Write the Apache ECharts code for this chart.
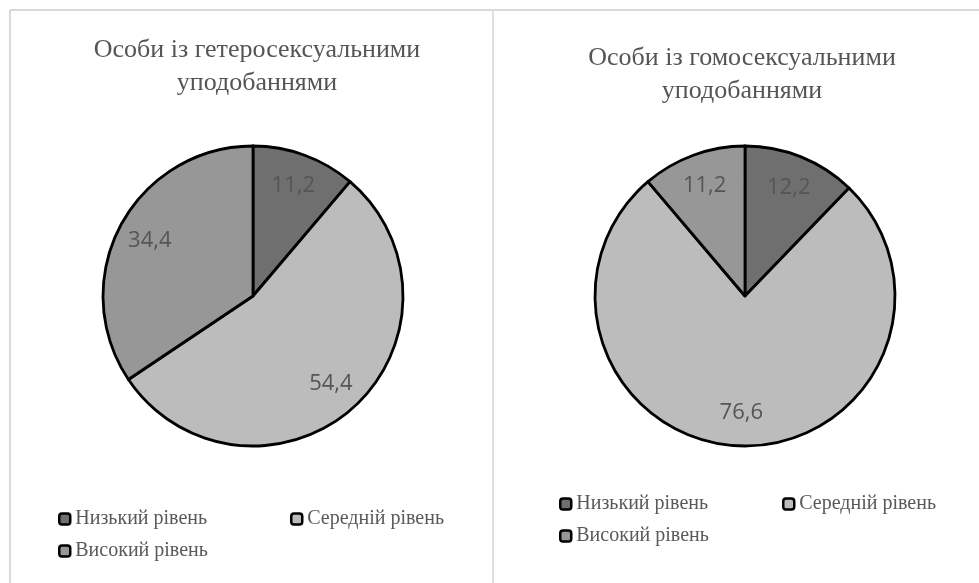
<!DOCTYPE html>
<html><head><meta charset="utf-8">
<script src="https://cdn.jsdelivr.net/npm/echarts@6/dist/echarts.min.js"></script>
<style>html,body{margin:0;padding:0;background:#fff;}#c{width:979px;height:583px;}</style>
</head><body><div id="c"></div>
<script>
const categories = ['Низький рівень', 'Середній рівень', 'Високий рівень'];
const heteroValues = [11.2, 54.4, 34.4];
const homoValues = [12.2, 76.6, 11.2];
const heteroLabels = ['11,2', '54,4', '34,4'];
const homoLabels = ['12,2', '76,6', '11,2'];
const titles = ['Особи із гетеросексуальними\nуподобаннями', 'Особи із гомосексуальними\nуподобаннями'];
const sliceColors = ['#6f6f6f', '#bcbcbc', '#979797'];

const chart = echarts.init(document.getElementById('c'), null, {renderer: 'canvas'});

function fillSeries(values, center) {
  return {
    type: 'pie', center: center, radius: [0, 150], startAngle: 90, clockwise: true,
    silent: true, label: {show: false}, labelLine: {show: false},
    itemStyle: {borderColor: '#000', borderWidth: 2.8},
    emphasis: {disabled: true},
    data: categories.map((n, i) => ({name: n, value: values[i], itemStyle: {color: sliceColors[i]}}))
  };
}
function labelSeries(values, labels, center) {
  return {
    type: 'pie', center: center, radius: [78, 150], startAngle: 90, clockwise: true,
    silent: true, legendHoverLink: false, z: 5,
    itemStyle: {color: 'rgba(0,0,0,0)', borderWidth: 0},
    emphasis: {disabled: true},
    labelLine: {show: false},
    label: {show: true, position: 'inside', fontFamily: 'Open Sans', fontSize: 22, color: '#555',
      formatter: p => labels[p.dataIndex]},
    data: categories.map((n, i) => ({name: n, value: values[i]}))
  };
}
const legendText = {fontFamily: 'Liberation Serif', fontSize: 20, color: '#595959'};
function lg(name, left, top) {
  return {data: [name], left: left, top: top, icon: 'roundRect', itemWidth: 11, itemHeight: 11, itemGap: 2,
    itemStyle: {borderColor: '#000', borderWidth: 2.5}, textStyle: legendText, selectedMode: false, padding: 0};
}
const titleStyle = {fontFamily: 'Liberation Serif', fontWeight: 'normal', fontSize: 26, lineHeight: 33, color: '#555'};

chart.setOption({
  backgroundColor: '#fff',
  animation: false,
  title: [
    {text: titles[0], left: 252, top: 29, textAlign: 'center', textStyle: titleStyle},
    {text: titles[1], left: 737, top: 37, textAlign: 'center', textStyle: titleStyle}
  ],
  legend: [
    lg(categories[0], 58, 509), lg(categories[1], 290, 509), lg(categories[2], 58, 541),
    lg(categories[0], 559, 494), lg(categories[1], 782, 494), lg(categories[2], 559, 526)
  ],
  graphic: [
    {type: 'line', shape: {x1: 10, y1: 10, x2: 979, y2: 10}, style: {stroke: '#d9d9d9', lineWidth: 2}, silent: true},
    {type: 'line', shape: {x1: 10, y1: 10, x2: 10, y2: 583}, style: {stroke: '#d9d9d9', lineWidth: 2}, silent: true},
    {type: 'line', shape: {x1: 493, y1: 10, x2: 493, y2: 583}, style: {stroke: '#e0e0e0', lineWidth: 2}, silent: true}
  ],
  series: [
    fillSeries(heteroValues, [253, 296]),
    fillSeries(homoValues, [745, 296]),
    labelSeries(heteroValues, heteroLabels, [253, 296]),
    labelSeries(homoValues, homoLabels, [745, 296])
  ]
});
</script></body></html>
